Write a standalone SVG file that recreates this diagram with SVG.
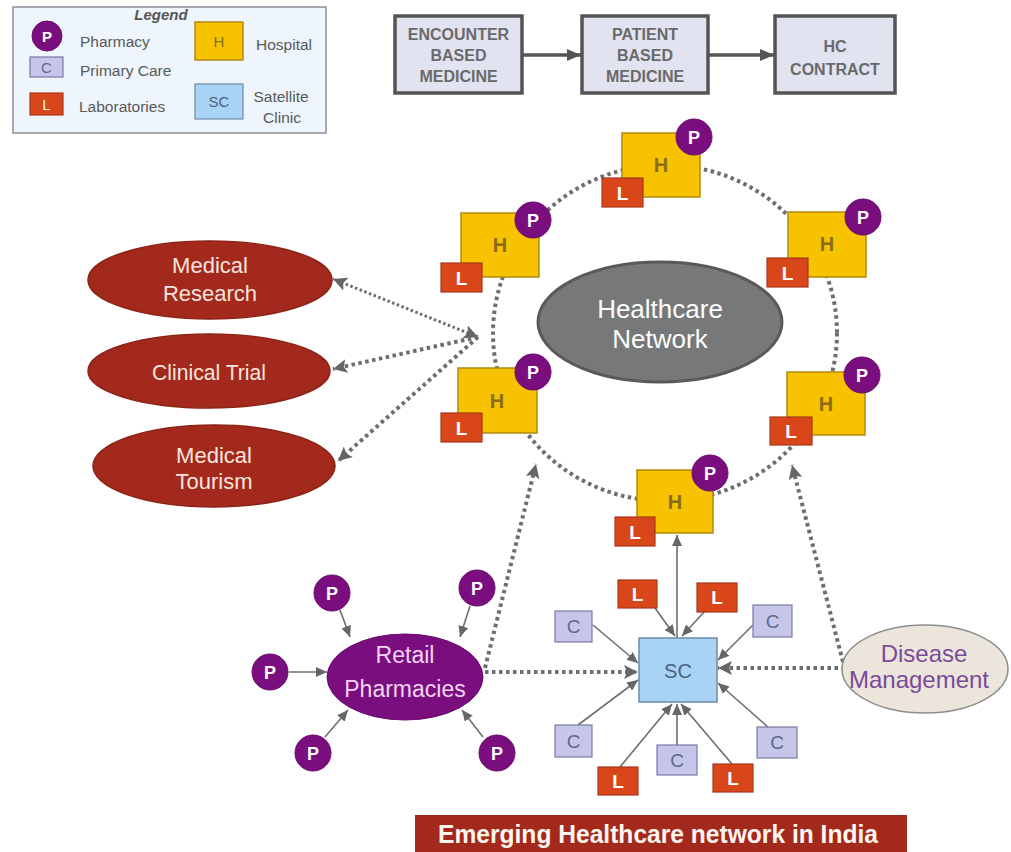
<svg xmlns="http://www.w3.org/2000/svg" width="1011" height="852" viewBox="0 0 1011 852">
<defs>
<style>
text{font-family:"Liberation Sans",Arial,sans-serif}
.lg{font-size:15.5px;fill:#5a5a5a}
.hrect{fill:#f7c200;stroke:#b08a10;stroke-width:1.5}
.ht{font-size:20px;font-weight:bold;fill:#8a6c18;text-anchor:middle}
.lrect{fill:#d8461a;stroke:#a8371a;stroke-width:1.2}
.lt{font-size:19px;font-weight:bold;fill:#fff;text-anchor:middle}
.pc{fill:#7b0e7f;stroke:#6a0a6e;stroke-width:1}
.pt{font-size:18px;font-weight:bold;fill:#fff;text-anchor:middle}
.crect{fill:#c6c6ea;stroke:#7a7a9e;stroke-width:1.2}
.ct{font-size:19px;fill:#5d6a86;text-anchor:middle}
.top{fill:#e2e3f1;stroke:#545454;stroke-width:3.5}
.tt{font-size:16px;font-weight:bold;fill:#6a6a6a;text-anchor:middle}
.red{fill:#a2291c;stroke:#8c2418;stroke-width:1.5}
.rt{font-size:22px;fill:#f8e4de;text-anchor:middle}
.dot{fill:none;stroke:#6e6e6e;stroke-width:4;stroke-dasharray:3.5 3.5}
.sol{fill:none;stroke:#6e6e6e;stroke-width:1.6}
.tar{fill:none;stroke:#555;stroke-width:3.5}
</style>
<marker id="as" markerUnits="userSpaceOnUse" markerWidth="11" markerHeight="10" refX="11" refY="5" orient="auto"><path d="M0,0 L11,5 L0,10 z" fill="#666"/></marker>
<marker id="ad" markerUnits="userSpaceOnUse" markerWidth="14" markerHeight="14" refX="14" refY="7" orient="auto-start-reverse"><path d="M0,0 L14,7 L0,14 L3,7 z" fill="#666"/></marker>
<marker id="at" markerUnits="userSpaceOnUse" markerWidth="14" markerHeight="12" refX="14" refY="6" orient="auto"><path d="M0,0 L14,6 L0,12 z" fill="#555"/></marker>
</defs>
<rect width="1011" height="852" fill="#ffffff"/>

<g id="legend">
<rect x="13" y="7" width="313" height="126" fill="#eef5fc" stroke="#8a8f96" stroke-width="1.5"/>
<text x="161" y="20" font-size="15" font-style="italic" font-weight="bold" fill="#555" text-anchor="middle">Legend</text>
<circle cx="47" cy="36" r="15" class="pc"/><text x="47" y="41.5" class="pt" style="font-size:15px">P</text>
<text x="80" y="47" class="lg">Pharmacy</text>
<rect x="30" y="57" width="33" height="20" class="crect"/><text x="46.5" y="72.5" class="ct" style="font-size:15px">C</text>
<text x="80" y="76" class="lg">Primary Care</text>
<rect x="30" y="93" width="33" height="22" class="lrect"/><text x="46.5" y="110" class="lt" style="font-size:15px;font-weight:normal">L</text>
<text x="79" y="112" class="lg">Laboratories</text>
<rect x="195" y="22" width="48" height="38" class="hrect"/><text x="219" y="46.5" class="ht" style="font-size:15px;font-weight:normal">H</text>
<text x="256" y="50" class="lg">Hospital</text>
<rect x="195" y="84" width="48" height="35" fill="#a9d3f5" stroke="#6f8aa6" stroke-width="1.2"/><text x="219" y="107" font-size="15" fill="#4a6080" text-anchor="middle">SC</text>
<text x="281" y="102" class="lg" text-anchor="middle">Satellite</text>
<text x="282" y="123" class="lg" text-anchor="middle">Clinic</text>
</g>

<g id="connectors">
<line x1="522" y1="55" x2="581" y2="55" class="tar" marker-end="url(#at)"/>
<line x1="708" y1="55" x2="774" y2="55" class="tar" marker-end="url(#at)"/>
<ellipse cx="665" cy="333" rx="172" ry="168" class="dot"/>
<line x1="478" y1="337" x2="333" y2="279" class="dot" style="stroke-width:3;stroke-dasharray:2.5 2.5" marker-start="url(#ad)" marker-end="url(#ad)"/>
<line x1="478" y1="337" x2="333" y2="369" class="dot" marker-end="url(#ad)"/>
<line x1="478" y1="337" x2="338" y2="461" class="dot" marker-end="url(#ad)"/>
<line x1="485" y1="668" x2="536" y2="464" class="dot" marker-end="url(#ad)"/>
<line x1="485" y1="672" x2="638" y2="672" class="dot" marker-end="url(#ad)"/>
<line x1="843" y1="662" x2="792" y2="465" class="dot" marker-end="url(#ad)"/>
<line x1="845" y1="668" x2="718" y2="668" class="dot" marker-end="url(#ad)"/>
<line x1="340" y1="610" x2="350" y2="637" class="sol" marker-end="url(#as)"/>
<line x1="470" y1="606" x2="460" y2="637" class="sol" marker-end="url(#as)"/>
<line x1="289" y1="672" x2="327" y2="672" class="sol" marker-end="url(#as)"/>
<line x1="325" y1="737" x2="348" y2="710" class="sol" marker-end="url(#as)"/>
<line x1="483" y1="737" x2="462" y2="710" class="sol" marker-end="url(#as)"/>
<line x1="677" y1="638" x2="677" y2="535" class="sol" marker-end="url(#as)"/>
<line x1="655" y1="608" x2="675" y2="636" class="sol" marker-end="url(#as)"/>
<line x1="705" y1="611" x2="682" y2="636" class="sol" marker-end="url(#as)"/>
<line x1="593" y1="625" x2="638" y2="663" class="sol" marker-end="url(#as)"/>
<line x1="753" y1="625" x2="718" y2="660" class="sol" marker-end="url(#as)"/>
<line x1="578" y1="725" x2="638" y2="680" class="sol" marker-end="url(#as)"/>
<line x1="768" y1="727" x2="718" y2="683" class="sol" marker-end="url(#as)"/>
<line x1="620" y1="767" x2="672" y2="704" class="sol" marker-end="url(#as)"/>
<line x1="677" y1="745" x2="677" y2="704" class="sol" marker-end="url(#as)"/>
<line x1="732" y1="764" x2="681" y2="704" class="sol" marker-end="url(#as)"/>
</g>

<g id="top-encounter"><rect x="395" y="16" width="127" height="77" class="top"/>
<text x="458.5" y="40" class="tt">ENCOUNTER</text><text x="458.5" y="61" class="tt">BASED</text><text x="458.5" y="82" class="tt">MEDICINE</text></g>
<g id="top-patient"><rect x="582" y="16" width="126" height="77" class="top"/>
<text x="645" y="40" class="tt">PATIENT</text><text x="645" y="61" class="tt">BASED</text><text x="645" y="82" class="tt">MEDICINE</text></g>
<g id="top-hc"><rect x="775" y="16" width="120" height="77" class="top"/>
<text x="835" y="52" class="tt">HC</text><text x="835" y="75" class="tt">CONTRACT</text></g>

<g id="healthcare-network">
<ellipse cx="660" cy="322" rx="122" ry="60" fill="#77787a" stroke="#58595b" stroke-width="3"/>
<text x="660" y="318" font-size="26" fill="#fff" text-anchor="middle">Healthcare</text>
<text x="660" y="348" font-size="26" fill="#fff" text-anchor="middle">Network</text>
</g>

<g id="hosp-top" transform="translate(622,133)"><rect width="78" height="64" class="hrect"/><text x="39" y="39" class="ht">H</text><rect x="-20" y="45" width="41" height="29" class="lrect"/><text x="0.5" y="67" class="lt">L</text><circle cx="72" cy="4" r="18" class="pc"/><text x="72" y="11" class="pt">P</text></g>
<g id="hosp-left-upper" transform="translate(461,213)"><rect width="78" height="64" class="hrect"/><text x="39" y="39" class="ht">H</text><rect x="-20" y="50" width="41" height="29" class="lrect"/><text x="0.5" y="72" class="lt">L</text><circle cx="72" cy="7" r="18" class="pc"/><text x="72" y="14" class="pt">P</text></g>
<g id="hosp-right-upper" transform="translate(788,212)"><rect width="78" height="65" class="hrect"/><text x="39" y="39" class="ht">H</text><rect x="-21" y="46" width="41" height="29" class="lrect"/><text x="-0.5" y="68" class="lt">L</text><circle cx="75" cy="5" r="18" class="pc"/><text x="75" y="12" class="pt">P</text></g>
<g id="hosp-left-lower" transform="translate(458,368)"><rect width="79" height="65" class="hrect"/><text x="39" y="40" class="ht">H</text><rect x="-17" y="45" width="41" height="29" class="lrect"/><text x="3.5" y="67" class="lt">L</text><circle cx="75" cy="4" r="18" class="pc"/><text x="75" y="11" class="pt">P</text></g>
<g id="hosp-right-lower" transform="translate(787,372)"><rect width="78" height="63" class="hrect"/><text x="39" y="39" class="ht">H</text><rect x="-17" y="45" width="42" height="28" class="lrect"/><text x="4" y="66" class="lt">L</text><circle cx="75" cy="3" r="18" class="pc"/><text x="75" y="10" class="pt">P</text></g>
<g id="hosp-bottom" transform="translate(637,470)"><rect width="76" height="63" class="hrect"/><text x="38" y="39" class="ht">H</text><rect x="-22" y="47" width="40" height="29" class="lrect"/><text x="-2" y="69" class="lt">L</text><circle cx="73" cy="3" r="18" class="pc"/><text x="73" y="10" class="pt">P</text></g>

<g id="medical-research"><ellipse cx="210" cy="280" rx="122" ry="39" class="red"/>
<text x="210" y="273" class="rt">Medical</text><text x="210" y="301" class="rt">Research</text></g>
<g id="clinical-trial"><ellipse cx="209" cy="371" rx="121" ry="37" class="red"/>
<text x="209" y="380" class="rt" textLength="114" lengthAdjust="spacingAndGlyphs">Clinical Trial</text></g>
<g id="medical-tourism"><ellipse cx="214" cy="466" rx="121" ry="41" class="red"/>
<text x="214" y="463" class="rt">Medical</text><text x="214" y="489" class="rt">Tourism</text></g>

<g id="retail-pharmacies"><ellipse cx="405" cy="677" rx="78" ry="43" fill="#7b0e7f" stroke="#6a0a6e" stroke-width="1"/>
<text x="405" y="663" font-size="23" fill="#f3d3f3" text-anchor="middle">Retail</text>
<text x="405" y="697" font-size="23" fill="#f3d3f3" text-anchor="middle">Pharmacies</text></g>
<g id="p-tl"><circle cx="332" cy="593" r="18" class="pc"/><text x="332" y="600" class="pt">P</text></g>
<g id="p-tr"><circle cx="477" cy="588" r="18" class="pc"/><text x="477" y="595" class="pt">P</text></g>
<g id="p-l"><circle cx="270" cy="672" r="18" class="pc"/><text x="270" y="679" class="pt">P</text></g>
<g id="p-bl"><circle cx="313" cy="753" r="18" class="pc"/><text x="313" y="760" class="pt">P</text></g>
<g id="p-br"><circle cx="497" cy="753" r="18" class="pc"/><text x="497" y="760" class="pt">P</text></g>

<g id="sc"><rect x="639" y="638" width="78" height="64" fill="#a9d3f5" stroke="#6f8aa6" stroke-width="1.5"/>
<text x="678" y="678" font-size="20" fill="#4a6080" text-anchor="middle">SC</text></g>
<g id="l-sc-tl"><rect x="618" y="580" width="39" height="28" class="lrect"/><text x="637.5" y="601" class="lt">L</text></g>
<g id="l-sc-tr"><rect x="697" y="583" width="40" height="29" class="lrect"/><text x="717" y="604" class="lt">L</text></g>
<g id="l-sc-bl"><rect x="598" y="767" width="40" height="28" class="lrect"/><text x="618" y="788" class="lt">L</text></g>
<g id="l-sc-br"><rect x="713" y="764" width="40" height="28" class="lrect"/><text x="733" y="785" class="lt">L</text></g>
<g id="c-tl"><rect x="555" y="611" width="37" height="31" class="crect"/><text x="573.5" y="633" class="ct">C</text></g>
<g id="c-tr"><rect x="753" y="605" width="39" height="32" class="crect"/><text x="772.5" y="628" class="ct">C</text></g>
<g id="c-bl"><rect x="555" y="725" width="37" height="32" class="crect"/><text x="573.5" y="748" class="ct">C</text></g>
<g id="c-bm"><rect x="657" y="745" width="40" height="30" class="crect"/><text x="677" y="767" class="ct">C</text></g>
<g id="c-br"><rect x="757" y="727" width="40" height="31" class="crect"/><text x="777" y="749" class="ct">C</text></g>

<g id="disease-management"><ellipse cx="925" cy="669" rx="83" ry="44" fill="#ebe5dc" stroke="#8e8e8e" stroke-width="1.5"/>
<text x="924" y="662" font-size="24" fill="#7b4a9a" text-anchor="middle">Disease</text>
<text x="919" y="688" font-size="24" fill="#7b4a9a" text-anchor="middle">Management</text></g>

<g id="title"><rect x="415" y="815" width="492" height="40" fill="#a2291c"/>
<text x="658" y="843" font-size="26" font-weight="bold" fill="#fff6f0" text-anchor="middle" textLength="440" lengthAdjust="spacingAndGlyphs">Emerging Healthcare network in India</text></g>
</svg>
